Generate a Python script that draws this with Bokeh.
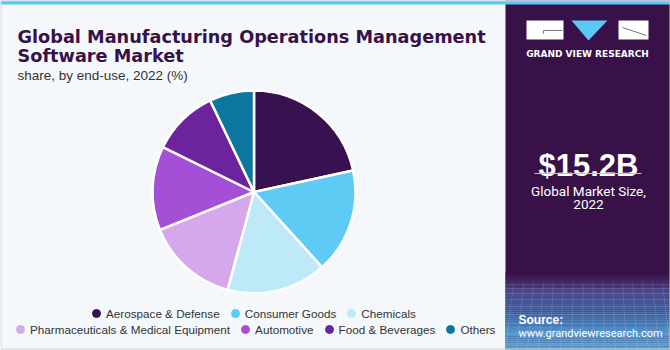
import numpy as np
from bokeh.plotting import figure
from bokeh.models import ColumnDataSource, Range1d, Legend, LegendItem
from bokeh.core.properties import value
from bokeh.embed import file_html
from bokeh.resources import INLINE

# ---- data ----
categories = ["Aerospace & Defense", "Consumer Goods", "Chemicals",
              "Pharmaceuticals & Medical Equipment", "Automotive",
              "Food & Beverages", "Others"]
shares = [21.6, 16.7, 15.9, 14.7, 13.4, 10.6, 7.1]
colors = ["#371150", "#5ecbf5", "#bde9f9", "#d5a8ec", "#a450d6", "#6c239c", "#0b769e"]
legend_row1 = categories[:3]
legend_row2 = categories[3:]

title_lines = ["Global Manufacturing Operations Management", "Software Market"]
subtitle = "share, by end-use, 2022 (%)"
market_size = "$15.2B"
market_label = ["Global Market Size,", "2022"]
source_lines = ["Source:", "www.grandviewresearch.com"]

W, H = 670, 350
BG = "#f4f8fb"
PURPLE = "#371147"

p = figure(width=W, height=H, x_range=Range1d(0, W), y_range=Range1d(0, H),
           output_backend="svg", toolbar_location=None, min_border=0,
           x_axis_location=None, y_axis_location=None)
p.grid.visible = False
p.outline_line_color = None
p.background_fill_color = BG
p.border_fill_color = BG

def Y(py):
    return H - py

# ---- right panel ----
p.quad(left=[505], right=[670], bottom=[0], top=[H], fill_color=PURPLE, line_color=None)
# gradient at the bottom of the panel
c0 = np.array([0x37, 0x11, 0x47]); c1 = np.array([0x4a, 0x45, 0x88]); c2 = np.array([0x55, 0xb4, 0xe6])
n = 40
edges = np.linspace(272, 350, n + 1)
strip_cols = []
for i in range(n):
    t = (edges[i] + edges[i + 1]) / 2
    if t < 290:
        f = (t - 272) / 18
        c = c0 + (c1 - c0) * f
    else:
        f = (t - 290) / 60
        c = c1 + (c2 - c1) * f
    strip_cols.append("#%02x%02x%02x" % tuple(int(v) for v in c))
p.quad(left=505, right=670, bottom=[Y(e) for e in edges[1:]], top=[Y(e) for e in edges[:-1]],
       fill_color=strip_cols, line_color=None)
# faint grid texture
gx = np.linspace(505, 670, 16)
p.segment(x0=gx, y0=Y(350), x1=gx * 0.9 + 588 * 0.1, y1=Y(282), line_color="white", line_alpha=0.12, line_width=1)
gy = [284, 288, 293, 299, 306, 314, 323, 333, 344]
p.segment(x0=505, y0=[Y(v) for v in gy], x1=670, y1=[Y(v) for v in gy], line_color="white", line_alpha=0.12, line_width=1)

# top blue bar
p.quad(left=[0], right=[W], bottom=[Y(4)], top=[H], fill_color="#5bc8f0", line_color=None)
# frame border
p.quad(left=[0.5], right=[W - 0.5], bottom=[1.5], top=[H - 0.5], fill_color=None, line_color="#cfd3d6", line_width=1)

# logo
p.quad(left=[526, 618], right=[563, 648], bottom=[Y(39), Y(39)], top=[Y(20), Y(20)], fill_color="white", line_color=None)
p.patch(x=[571, 607, 588], y=[Y(20), Y(20), Y(40)], fill_color="#5bc8f5", line_color=None)
p.line(x=[543, 543, 562], y=[Y(33), Y(30), Y(30)], line_color="#777777", line_width=1)
p.line(x=[622, 646], y=[Y(27), Y(35)], line_color="#777777", line_width=1)
p.text(x=[587], y=[Y(53)], text=["GRAND VIEW RESEARCH"], text_font=value("DejaVu Sans"),
       text_font_style="bold", text_font_size="9px", text_color="white", text_align="center",
       text_baseline="alphabetic")

# market size
p.text(x=[588], y=[Y(165)], text=[market_size], text_font=value("Liberation Sans"),
       text_font_style="bold", text_font_size="31px", text_color="white", text_align="center",
       text_baseline="alphabetic")
p.segment(x0=[534], y0=[Y(173)], x1=[641], y1=[Y(173)], line_color="#c8b8dc", line_width=1)
p.text(x=[588, 588], y=[Y(190), Y(204)], text=market_label, text_font=value("Roboto"),
       text_font_size="13.5px", text_color="white", text_align="center", text_baseline="alphabetic")

# source
p.text(x=[518], y=[Y(319)], text=[source_lines[0]], text_font=value("Liberation Sans"),
       text_font_style="bold", text_font_size="12px", text_color="white", text_baseline="alphabetic")
p.text(x=[518], y=[Y(333)], text=[source_lines[1]], text_font=value("Roboto"),
       text_font_size="11px", text_color="white", text_baseline="alphabetic")

# titles
p.text(x=[17, 17], y=[Y(36), Y(55)], text=title_lines, text_font=value("DejaVu Sans"),
       text_font_style="bold", text_font_size="17.7px", text_color=PURPLE, text_baseline="alphabetic")
p.text(x=[17], y=[Y(75)], text=[subtitle], text_font=value("Liberation Sans"),
       text_font_size="13.5px", text_color="#333333", text_baseline="alphabetic")

# ---- pie ----
frac = np.array(shares) / sum(shares)
cum = np.concatenate([[0], np.cumsum(frac)])
start = np.pi / 2 - cum[:-1] * 2 * np.pi
end = np.pi / 2 - cum[1:] * 2 * np.pi
src = ColumnDataSource(dict(start=start, end=end, color=colors, cat=categories))
p.wedge(x=253.5, y=Y(191.5), radius=101.5, start_angle="start", end_angle="end",
        direction="clock", fill_color="color", line_color="white", line_width=2.5, source=src)

# ---- legends ----
def make_legend(names, loc):
    items = []
    for nm in names:
        c = colors[categories.index(nm)]
        # proxy marker placed outside the visible range; only its legend glyph is seen
        r = p.scatter(x=[-100], y=[-100], size=9, marker="circle", fill_color=c, line_color=c)
        items.append(LegendItem(label=nm, renderers=[r]))
    lg = Legend(items=items, orientation="horizontal", location=loc,
                background_fill_alpha=0, border_line_color=None, padding=0, margin=0,
                spacing=5, glyph_width=20, glyph_height=20, label_standoff=0,
                label_height=20, label_text_font="Liberation Sans",
                label_text_font_size="11.7px", label_text_color="#333333")
    p.add_layout(lg, "center")

make_legend(legend_row1, (86, 27))
make_legend(legend_row2, (10, 11))

open("out.html", "w").write(file_html(p, INLINE))
